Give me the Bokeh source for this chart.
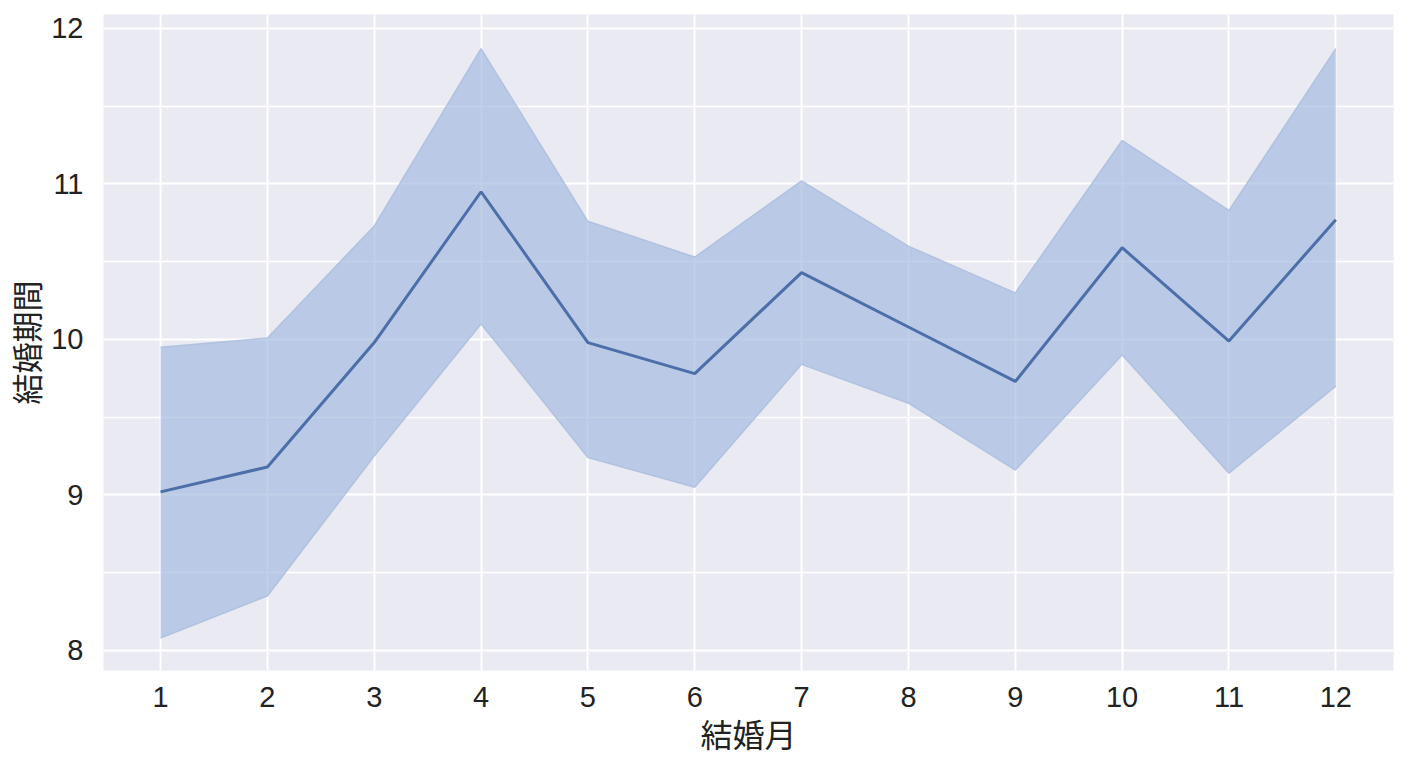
from bokeh.plotting import figure
from bokeh.models import ColumnDataSource, FixedTicker
from bokeh.embed import file_html
from bokeh.resources import INLINE

months = [1, 2, 3, 4, 5, 6, 7, 8, 9, 10, 11, 12]
mean_duration = [9.02, 9.18, 9.98, 10.95, 9.98, 9.78, 10.43, 10.08, 9.73, 10.59, 9.99, 10.77]
upper_ci = [9.95, 10.01, 10.73, 11.87, 10.76, 10.53, 11.02, 10.60, 10.30, 11.28, 10.83, 11.87]
lower_ci = [8.08, 8.35, 9.25, 10.10, 9.24, 9.05, 9.84, 9.59, 9.16, 9.90, 9.14, 9.70]

source = ColumnDataSource(data=dict(x=months, y=mean_duration, lower=lower_ci, upper=upper_ci))

p = figure(width=1400, height=760, x_range=(0.466, 12.54), y_range=(7.871, 12.09),
           output_backend="svg", toolbar_location=None,
           x_axis_label="結婚月", y_axis_label="結婚期間",
           min_border_left=103, min_border_right=7, min_border_top=14, min_border_bottom=90)

p.background_fill_color = "#EAEAF2"
p.border_fill_color = "white"
p.outline_line_color = None

p.varea(x="x", y1="lower", y2="upper", source=source, fill_color="#A8BEE0", fill_alpha=0.72)
p.line(x="x", y="upper", source=source, line_color="#A9BDDD", line_width=1.5, line_alpha=0.8)
p.line(x="x", y="lower", source=source, line_color="#A9BDDD", line_width=1.5, line_alpha=0.8)
p.line(x="x", y="y", source=source, line_color="#4C6FA9", line_width=3)

p.xaxis.ticker = FixedTicker(ticks=months)
p.yaxis.ticker = FixedTicker(ticks=[8, 9, 10, 11, 12], minor_ticks=[7.5, 8.5, 9.5, 10.5, 11.5])

p.xgrid.grid_line_color = "white"
p.xgrid.grid_line_width = 2
p.ygrid.grid_line_color = "white"
p.ygrid.grid_line_width = 2
p.ygrid.minor_grid_line_color = "white"
p.ygrid.minor_grid_line_width = 1.5

for ax in (p.xaxis, p.yaxis):
    ax.axis_line_color = None
    ax.major_tick_line_color = None
    ax.minor_tick_line_color = None
    ax.major_label_text_font = "Liberation Sans"
    ax.major_label_text_font_size = "29px"
    ax.major_label_text_color = "#222222"
    ax.axis_label_text_font = "Noto Sans CJK JP"
    ax.axis_label_text_font_style = "normal"
    ax.axis_label_text_color = "#222222"

p.xaxis.axis_label_text_font_size = "32px"
p.yaxis.axis_label_text_font_size = "31px"
p.xaxis.major_label_standoff = 10
p.yaxis.major_label_standoff = 14
p.xaxis.axis_label_standoff = 0
p.yaxis.axis_label_standoff = 0

open("out.html", "w").write(file_html(p, INLINE))
